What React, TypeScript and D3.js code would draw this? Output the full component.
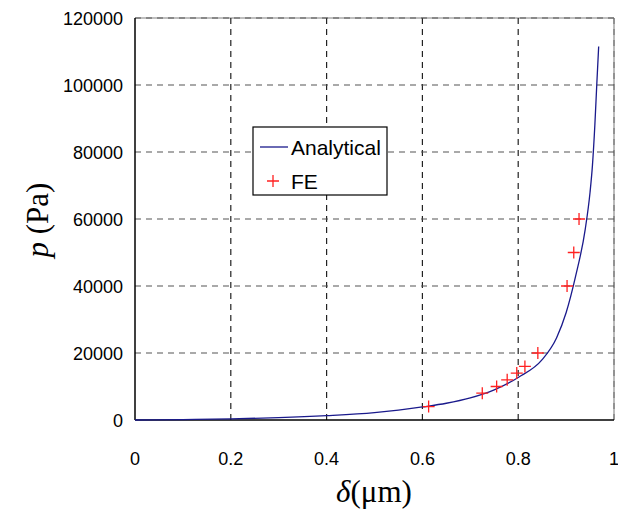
import React, { useEffect, useRef } from 'react';
import * as d3 from 'd3';

// Analytical solution
const analyticalDelta = [0, 0.1, 0.2, 0.3, 0.4, 0.5, 0.55, 0.6, 0.65, 0.7, 0.75, 0.8, 0.85, 0.88, 0.9, 0.92, 0.94, 0.95, 0.955, 0.96, 0.964, 0.968];
const analyticalP = [0, 120, 330, 700, 1300, 2200, 2950, 3900, 5000, 6600, 9000, 12700, 18000, 24500, 32000, 43000, 57000, 68000, 76000, 88000, 100000, 111500];

// FE results
const feDelta = [0.613, 0.725, 0.755, 0.777, 0.797, 0.814, 0.841, 0.902, 0.916, 0.927];
const feP = [4000, 8000, 10000, 12000, 14000, 16000, 20000, 40000, 50000, 60000];

const xTicks = [0, 0.2, 0.4, 0.6, 0.8, 1];
const yTicks = [0, 20000, 40000, 60000, 80000, 100000, 120000];

const App = () => {
  const ref = useRef<SVGSVGElement>(null);

  useEffect(() => {
    const width = 618;
    const height = 512;
    const left = 135;
    const right = 614;
    const top = 18;
    const bottom = 420;

    const svg = d3.select(ref.current);
    svg.selectAll('*').remove();
    svg.attr('width', width).attr('height', height);

    const x = d3.scaleLinear().domain([0, 1]).range([left, right]);
    const y = d3.scaleLinear().domain([0, 120000]).range([bottom, top]);

    svg.append('rect').attr('width', width).attr('height', height).attr('fill', 'white');

    // frame top/right in light grey
    svg.append('line')
      .attr('x1', left).attr('x2', right).attr('y1', top).attr('y2', top)
      .attr('stroke', '#aaa').attr('stroke-width', 1.5);
    svg.append('line')
      .attr('x1', right).attr('x2', right).attr('y1', top).attr('y2', bottom)
      .attr('stroke', '#bbb').attr('stroke-width', 2);

    // dashed grid
    const grid = svg.append('g').attr('stroke-width', 1.2).attr('stroke-dasharray', '6,5');
    grid.selectAll('.vg').data(xTicks.slice(1)).join('line')
      .attr('x1', d => x(d)).attr('x2', d => x(d))
      .attr('y1', bottom).attr('y2', top)
      .attr('stroke', d => (d === 1 ? '#777' : '#222'));
    grid.selectAll('.hg').data(yTicks.slice(1)).join('line')
      .attr('x1', left).attr('x2', right)
      .attr('y1', d => y(d)).attr('y2', d => y(d))
      .attr('stroke', '#555');

    // axes
    svg.append('line')
      .attr('x1', left).attr('x2', left).attr('y1', top).attr('y2', bottom)
      .attr('stroke', 'black').attr('stroke-width', 1.5);
    svg.append('line')
      .attr('x1', left).attr('x2', right).attr('y1', bottom).attr('y2', bottom)
      .attr('stroke', 'black').attr('stroke-width', 1.5);

    // tick labels
    svg.selectAll('.xt').data(xTicks).join('text')
      .attr('x', d => x(d)).attr('y', 465)
      .attr('text-anchor', 'middle')
      .attr('font-family', 'Liberation Sans, Arial, sans-serif')
      .attr('font-size', 18)
      .text(d => String(d));
    svg.selectAll('.yt').data(yTicks).join('text')
      .attr('x', 123).attr('y', d => y(d) + 6.5)
      .attr('text-anchor', 'end')
      .attr('font-family', 'Liberation Sans, Arial, sans-serif')
      .attr('font-size', 18)
      .text(d => String(d));

    // axis titles
    const xt = svg.append('text')
      .attr('x', 374).attr('y', 502)
      .attr('text-anchor', 'middle')
      .attr('font-family', 'Liberation Serif, Times New Roman, serif')
      .attr('font-size', 31);
    xt.append('tspan').attr('font-style', 'italic').text('δ');
    xt.append('tspan').text('(μm)');

    const yt = svg.append('text')
      .attr('transform', 'translate(48,220) rotate(-90)')
      .attr('text-anchor', 'middle')
      .attr('font-family', 'Liberation Serif, Times New Roman, serif')
      .attr('font-size', 31);
    yt.append('tspan').attr('font-style', 'italic').text('p');
    yt.append('tspan').text(' (Pa)');

    // analytical curve
    const pts = analyticalDelta.map((d, i) => [d, analyticalP[i]] as [number, number]);
    svg.append('path')
      .datum(pts)
      .attr('fill', 'none')
      .attr('stroke', '#1a1a8c')
      .attr('stroke-width', 1.3)
      .attr('d', d3.line<[number, number]>().x(d => x(d[0])).y(d => y(d[1])).curve(d3.curveMonotoneX));

    // FE markers
    const plus = (g: d3.Selection<SVGGElement, unknown, null, undefined>, cx: number, cy: number) => {
      g.append('path')
        .attr('d', `M${cx - 6},${cy}H${cx + 6}M${cx},${cy - 6}V${cy + 6}`)
        .attr('stroke', '#ff2020')
        .attr('stroke-width', 1.3)
        .attr('fill', 'none');
    };
    const fe = svg.append('g');
    feDelta.forEach((d, i) => plus(fe, x(d), y(feP[i])));

    // legend
    const lg = svg.append('g');
    lg.append('rect')
      .attr('x', 253).attr('y', 127).attr('width', 134).attr('height', 68)
      .attr('fill', 'white').attr('stroke', 'black').attr('stroke-width', 1.2);
    lg.append('line')
      .attr('x1', 260).attr('x2', 288).attr('y1', 147).attr('y2', 147)
      .attr('stroke', '#1a1a8c').attr('stroke-width', 1.3);
    lg.append('text')
      .attr('x', 291).attr('y', 155)
      .attr('font-family', 'Liberation Sans, Arial, sans-serif')
      .attr('font-size', 21)
      .text('Analytical');
    plus(lg, 273, 181);
    lg.append('text')
      .attr('x', 291).attr('y', 189)
      .attr('font-family', 'Liberation Sans, Arial, sans-serif')
      .attr('font-size', 21)
      .text('FE');
  }, []);

  return <svg ref={ref} style={{ position: 'absolute', left: 0, top: 0 }} />;
};

export default App;
